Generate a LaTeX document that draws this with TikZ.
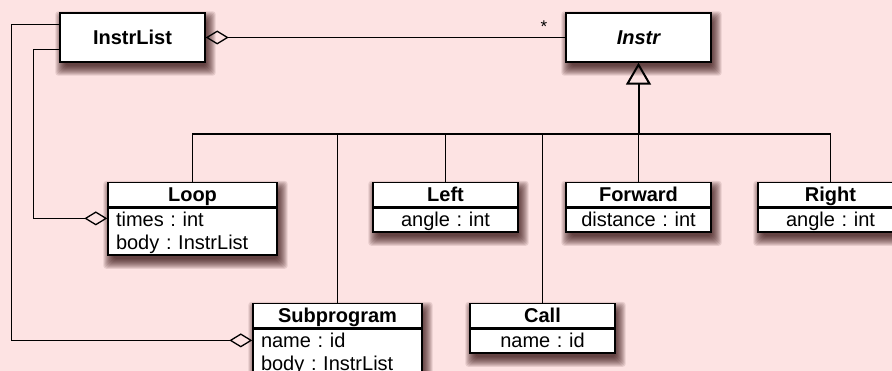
\documentclass[tikz,border=0pt]{standalone}
\usepackage{fontspec}
\setmainfont{Liberation Sans}
\usetikzlibrary{arrows.meta,calc}
\definecolor{paper}{HTML}{FDE3E3}
\pgfdeclarelayer{shade}
\pgfsetlayers{shade,main}
\frenchspacing
% strut giving every attribute line the same height and depth
\newcommand\lnstrut{\rule[-5.5pt]{0pt}{23pt}}
% soft drop shadow under a class box, given its two corners
\newcommand\castshadow[2]{%
  \begin{pgfonlayer}{shade}
    \foreach \e in {-3,-2,...,7}{
      \fill[black!85!red, opacity=0.1, rounded corners=3pt]
        ($(#1)+(3-\e,6-\e)$) rectangle ($(#2)+(3+\e,6+\e)$);
    }
  \end{pgfonlayer}}
\tikzset{
  boxline/.style={draw=black, line width=1.4pt, fill=white},
  cls/.style={boxline, font=\bfseries\fontsize{20}{23}\selectfont,
    text height=14.3pt, text depth=0pt, inner sep=0pt,
    minimum width=145pt, minimum height=49pt},
  hdr/.style={boxline, font=\bfseries\fontsize{20}{23}\selectfont,
    text height=14.3pt, text depth=0pt, inner sep=0pt,
    minimum height=24pt, anchor=north},
  attr/.style={boxline, font=\fontsize{20}{23}\selectfont,
    inner xsep=8pt, inner ysep=0.5pt, anchor=north},
  tie/.style={draw=black, line width=1.3pt},
  has/.style={tie, -{Diamond[open, length=23pt, width=14pt]}},
  hasfrom/.style={tie, {Diamond[open, length=23pt, width=14pt]}-},
  isa/.style={draw=black, line width=2pt, -{Triangle[open, length=22pt, width=25pt]}},
}
\begin{document}
\begin{tikzpicture}[x=1pt, y=-1pt]
  \useasboundingbox (0,0) rectangle (892,371);
  \begin{pgfonlayer}{shade}
    \fill[paper] (0,0) rectangle (892,371);
  \end{pgfonlayer}
  \clip (0,0) rectangle (892,371);

  % abstract classes on top
  \node[cls] (instrlist) at (132.5,37.5) {InstrList};
  \node[cls, font=\bfseries\itshape\fontsize{20}{23}\selectfont] (instr) at (638.5,37.5) {Instr};
  \castshadow{instrlist.north west}{instrlist.south east}
  \castshadow{instr.north west}{instr.south east}

  % concrete instruction classes
  \node[hdr, minimum width=169pt] (loop) at (192.5,182) {Loop};
  \node[attr, text width=153pt, minimum width=169pt, align=left] (loopattr) at (loop.south)
    {\lnstrut times : int\\\lnstrut body : InstrList};
  \castshadow{loop.north west}{loopattr.south east}

  \node[hdr, minimum width=145pt] (leftcls) at (445.5,182) {Left};
  \node[attr, text width=129pt, minimum width=145pt, align=center] (leftattr) at (leftcls.south)
    {\lnstrut angle : int};
  \castshadow{leftcls.north west}{leftattr.south east}

  \node[hdr, minimum width=145pt] (forward) at (638.5,182) {Forward};
  \node[attr, text width=129pt, minimum width=145pt, align=center] (forwardattr) at (forward.south)
    {\lnstrut distance : int};
  \castshadow{forward.north west}{forwardattr.south east}

  \node[hdr, minimum width=145pt] (rightcls) at (830.5,182) {Right};
  \node[attr, text width=129pt, minimum width=145pt, align=center] (rightattr) at (rightcls.south)
    {\lnstrut angle : int};
  \castshadow{rightcls.north west}{rightattr.south east}

  \node[hdr, minimum width=169pt] (subprogram) at (337.5,303) {Subprogram};
  \node[attr, text width=153pt, minimum width=169pt, align=left] (subattr) at (subprogram.south)
    {\lnstrut name : id\\\lnstrut body : InstrList};
  \castshadow{subprogram.north west}{subattr.south east}

  \node[hdr, minimum width=145pt] (call) at (542.5,303) {Call};
  \node[attr, text width=129pt, minimum width=145pt, align=center] (callattr) at (call.south)
    {\lnstrut name : id};
  \castshadow{call.north west}{callattr.south east}

  % aggregation InstrList -> Instr
  \draw[hasfrom] (instrlist.east) -- (instr.west);
  \node[font=\fontsize{17}{17}\selectfont, inner sep=0pt] (mult) at (544,27) {*};

  % generalisation tree
  \coordinate (bus) at (638.5,134);
  \draw[tie] (loop.north) |- (bus);
  \draw[tie] (subprogram.north) |- (bus);
  \draw[tie] (leftcls.north) |- (bus);
  \draw[tie] (call.north) |- (bus);
  \draw[tie] (rightcls.north) |- (bus);
  \draw[tie] (forward.north) -- (bus);
  \draw[isa] (bus) -- (instr.south);

  % bodies holding an InstrList
  \coordinate (ilA) at ($(instrlist.north west)+(0,12)$);
  \coordinate (ilB) at ($(instrlist.north west)+(0,37)$);
  \coordinate (loopport) at ($(loopattr.north west)+(0,11)$);
  \coordinate (subport) at ($(subattr.north west)+(0,12)$);
  \draw[has] (ilB) -- ++(-26,0) |- (loopport);
  \draw[has] (ilA) -- ++(-48,0) |- (subport);
\end{tikzpicture}
\end{document}
